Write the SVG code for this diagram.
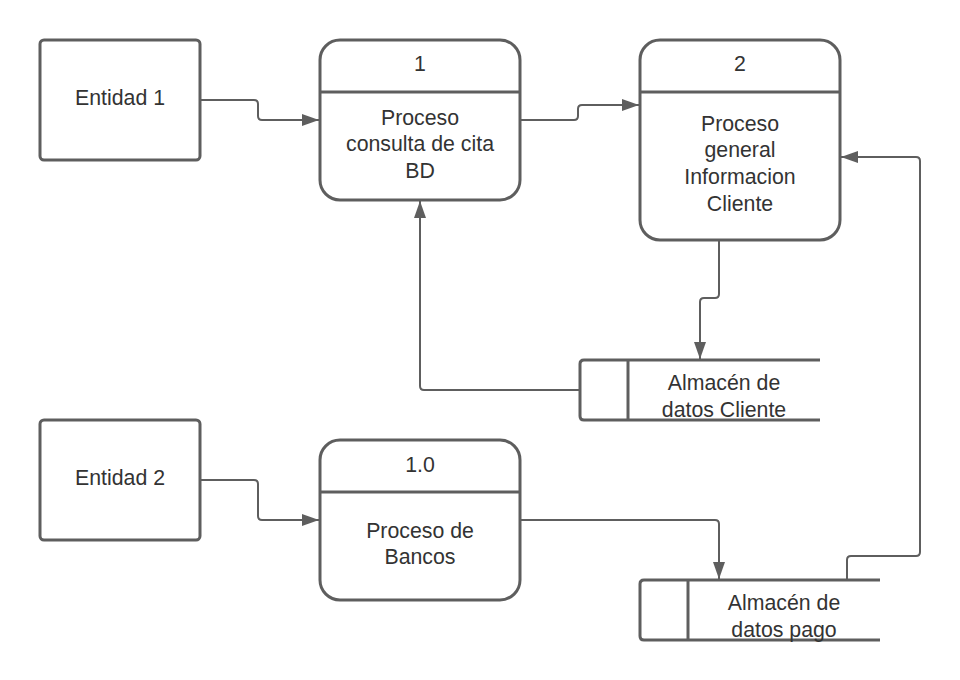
<svg xmlns="http://www.w3.org/2000/svg" width="960" height="680" viewBox="0 0 960 680">
<defs>
<style>
.shape{fill:#ffffff;stroke:#5e5e5e;stroke-width:3;}
.div{stroke:#5e5e5e;stroke-width:3;fill:none;}
.conn{fill:none;stroke:#5e5e5e;stroke-width:2;}
text{font-family:"Liberation Sans",Arial,sans-serif;font-size:21.3px;fill:#333333;text-anchor:middle;}
</style>
<marker id="arr" markerWidth="18" markerHeight="12" refX="17" refY="6" orient="auto" markerUnits="userSpaceOnUse">
<path d="M0,0 L17,6 L0,12 Z" fill="#5e5e5e"/>
</marker>
</defs>
<rect width="960" height="680" fill="#ffffff"/>
<g id="connectors">
<path class="conn" marker-end="url(#arr)" d="M201,100 H254 Q258,100 258,104 V116 Q258,120 262,120 H319"/>
<path class="conn" marker-end="url(#arr)" d="M521,120 H574 Q578,120 578,116 V109 Q578,105 582,105 H639"/>
<path class="conn" marker-end="url(#arr)" d="M719,241 V294 Q719,298 715,298 H704 Q700,298 700,302 V359"/>
<path class="conn" marker-end="url(#arr)" d="M579,390 H424 Q420,390 420,386 V201"/>
<path class="conn" marker-end="url(#arr)" d="M201,480 H254 Q258,480 258,484 V516 Q258,520 262,520 H319"/>
<path class="conn" marker-end="url(#arr)" d="M521,520 H715 Q719,520 719,524 V579"/>
<path class="conn" marker-end="url(#arr)" d="M847,579 V560 Q847,556 851,556 H916 Q920,556 920,552 V161 Q920,157 916,157 H841"/>
</g>
<g id="entidad1">
<rect class="shape" x="40" y="40" width="160" height="120" rx="4"/>
<text x="120" y="105">Entidad 1</text>
</g>
<g id="proceso1">
<rect class="shape" x="320" y="40" width="200" height="160" rx="20"/>
<line class="div" x1="320" y1="92" x2="520" y2="92"/>
<text x="420" y="71">1</text>
<text x="420" y="124.5">Proceso</text>
<text x="420" y="151.2">consulta de cita</text>
<text x="420" y="177.9">BD</text>
</g>
<g id="proceso2">
<rect class="shape" x="640" y="40" width="200" height="200" rx="20"/>
<line class="div" x1="640" y1="92" x2="840" y2="92"/>
<text x="740" y="71">2</text>
<text x="740" y="130.7">Proceso</text>
<text x="740" y="157.4">general</text>
<text x="740" y="184.1">Informacion</text>
<text x="740" y="210.8">Cliente</text>
</g>
<g id="almacen-cliente">
<path class="shape" d="M820,360 H584 Q580,360 580,364 V416 Q580,420 584,420 H820"/>
<line class="div" x1="628" y1="360" x2="628" y2="420"/>
<text x="724" y="390">Almacén de</text>
<text x="724" y="416.7">datos Cliente</text>
</g>
<g id="entidad2">
<rect class="shape" x="40" y="420" width="160" height="120" rx="4"/>
<text x="120" y="485">Entidad 2</text>
</g>
<g id="proceso10">
<rect class="shape" x="320" y="440" width="200" height="160" rx="20"/>
<line class="div" x1="320" y1="492" x2="520" y2="492"/>
<text x="420" y="471.5">1.0</text>
<text x="420" y="537.7">Proceso de</text>
<text x="420" y="564.4">Bancos</text>
</g>
<g id="almacen-pago">
<path class="shape" d="M880,580 H644 Q640,580 640,584 V636 Q640,640 644,640 H880"/>
<line class="div" x1="688" y1="580" x2="688" y2="640"/>
<text x="784" y="610">Almacén de</text>
<text x="784" y="636.5">datos pago</text>
</g>
</svg>
